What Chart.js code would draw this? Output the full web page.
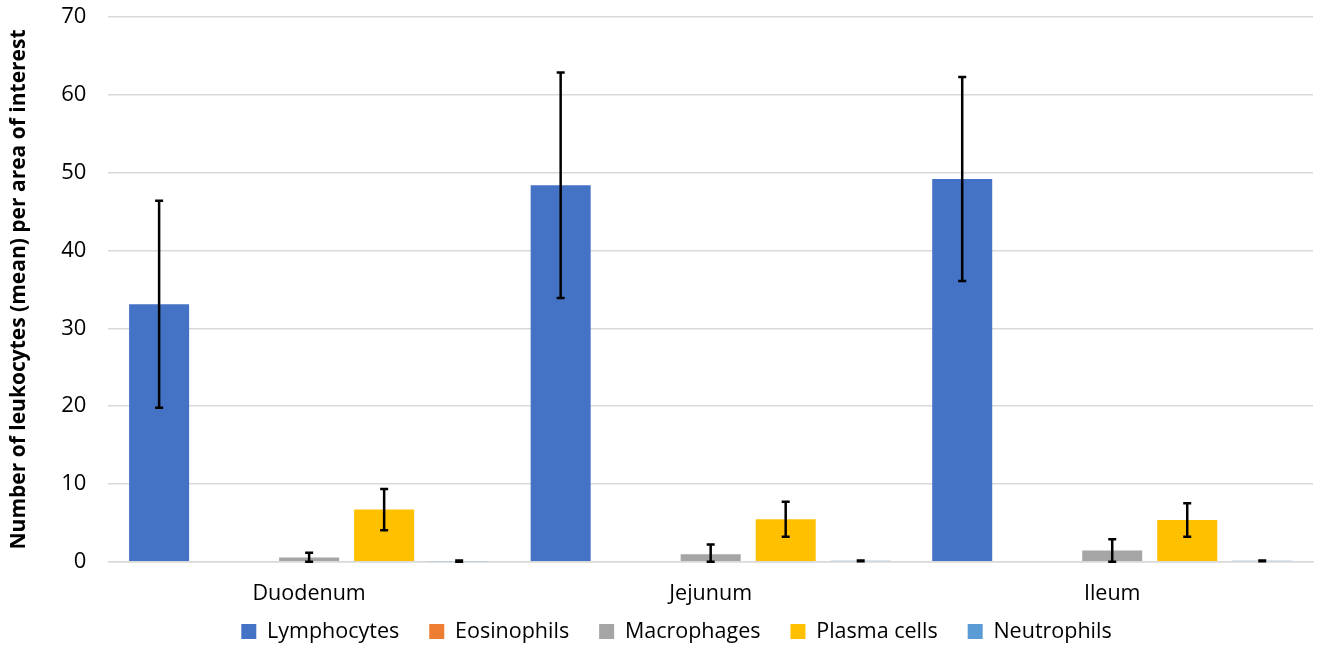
<!DOCTYPE html>
<html>
<head>
<meta charset="utf-8">
<script src="https://cdn.jsdelivr.net/npm/chart.js@4"></script>
<style>
html,body{margin:0;padding:0;background:#fff;}
#wrap{width:1317px;height:647px;}
</style>
</head>
<body>
<div id="wrap"><canvas id="c" width="1317" height="647"></canvas></div>
<script>
const categories = ["Duodenum", "Jejunum", "Ileum"];
const seriesNames = ["Lymphocytes", "Eosinophils", "Macrophages", "Plasma cells", "Neutrophils"];
const lymphocytes = [33.1, 48.4, 49.2];
const eosinophils = [0, 0, 0];
const macrophages = [0.55, 0.95, 1.45];
const plasmaCells = [6.7, 5.45, 5.35];
const neutrophils = [0.05, 0.12, 0.12];
const lymphocytesErr = [13.3, 14.5, 13.1];
const eosinophilsErr = [0, 0, 0];
const macrophagesErr = [0.6, 1.25, 1.45];
const plasmaCellsErr = [2.65, 2.25, 2.15];
const neutrophilsErr = [0.1, 0.05, 0.05];
const yTicks = [0, 10, 20, 30, 40, 50, 60, 70];
const colors = ["#4472C4", "#ED7D31", "#A5A5A5", "#FFC000", "#5B9BD5"];

const values = [lymphocytes, eosinophils, macrophages, plasmaCells, neutrophils];
const errors = [lymphocytesErr, eosinophilsErr, macrophagesErr, plasmaCellsErr, neutrophilsErr];

const LEGEND_PAD = 30;

const errorBarPlugin = {
  id: 'errorBars',
  afterDatasetsDraw(chart) {
    const ctx = chart.ctx;
    const y = chart.scales.y;
    ctx.save();
    ctx.strokeStyle = '#000';
    ctx.lineWidth = 2.5;
    chart.data.datasets.forEach((ds, di) => {
      const meta = chart.getDatasetMeta(di);
      if (meta.hidden) return;
      meta.data.forEach((bar, i) => {
        const err = ds.errors[i];
        if (!err) return;
        const v = ds.data[i];
        const x = bar.x;
        const yt = y.getPixelForValue(v + err);
        const yb = y.getPixelForValue(Math.max(v - err, 0));
        const cap = 4;
        ctx.beginPath();
        ctx.moveTo(x, yt); ctx.lineTo(x, yb);
        ctx.moveTo(x - cap, yt); ctx.lineTo(x + cap, yt);
        ctx.moveTo(x - cap, yb); ctx.lineTo(x + cap, yb);
        ctx.stroke();
      });
    });
    ctx.restore();
  }
};

const legendPlacePlugin = {
  id: 'legendPlace',
  afterLayout(chart) {
    const lg = chart.legend;
    if (!lg) return;
    const h = lg.height;
    lg.top = chart.chartArea.bottom + 70 - LEGEND_PAD - 11;
    lg.bottom = lg.top + h;
    lg.left += 17;
    lg.right += 17;
  }
};

Chart.defaults.font.family = "'Open Sans', 'Noto Sans', sans-serif";
Chart.defaults.color = '#000';

new Chart(document.getElementById('c'), {
  type: 'bar',
  data: {
    labels: categories,
    datasets: seriesNames.map((n, i) => ({
      label: n,
      data: values[i],
      errors: errors[i],
      backgroundColor: colors[i],
      borderWidth: 0,
      categoryPercentage: 0.934,
      barPercentage: 0.8
    }))
  },
  options: {
    responsive: false,
    animation: false,
    layout: { padding: { left: 6, right: 4, top: 0, bottom: -32 } },
    plugins: {
      legend: {
        position: 'bottom',
        labels: {
          boxWidth: 15, boxHeight: 15, padding: LEGEND_PAD,
          font: { size: 21.5 }, color: '#000'
        }
      },
      tooltip: { enabled: false }
    },
    scales: {
      x: {
        grid: { display: false },
        border: { color: '#d9d9d9', width: 1.5 },
        ticks: { font: { size: 21.5 }, color: '#000', padding: 11 }
      },
      y: {
        min: 0, max: 70,
        afterBuildTicks(scale) { scale.ticks = yTicks.map(v => ({ value: v })); },
        afterFit(scale) { scale.width += 20; },
        grid: { color: '#d9d9d9', lineWidth: 1.5, drawTicks: true, tickLength: 18, tickColor: 'rgba(0,0,0,0)' },
        border: { display: false },
        ticks: { font: { size: 22 }, color: '#000', padding: 4 },
        title: {
          display: true,
          text: 'Number of leukocytes (mean) per area of interest',
          font: { size: 21, weight: 'bold' },
          color: '#000',
          padding: { top: 0, bottom: 6 }
        }
      }
    }
  },
  plugins: [errorBarPlugin, legendPlacePlugin]
});
</script>
</body>
</html>
